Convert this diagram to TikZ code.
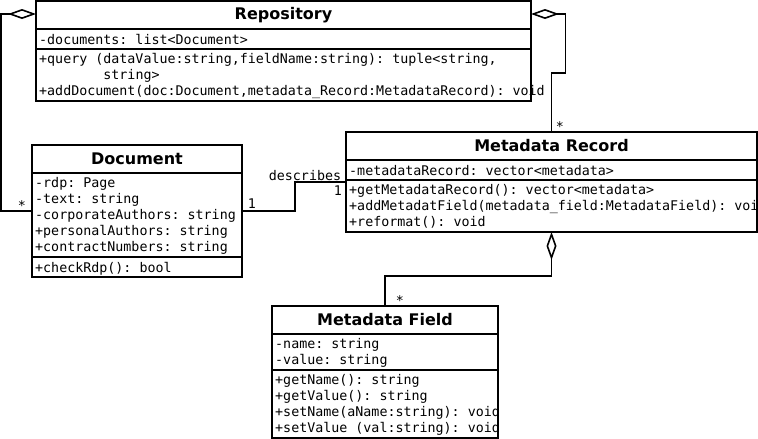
\documentclass[tikz,border=0pt]{standalone}
\usepackage{fontspec}
\setsansfont{DejaVu Sans}
\setmonofont{DejaVu Sans Mono}
\usetikzlibrary{arrows.meta}

\tikzset{
  part/.style={draw, line width=1.6pt, inner sep=0pt, outer sep=0pt, anchor=north west},
  classname/.style={part, minimum height=28pt, font=\sffamily\bfseries\fontsize{16}{19}\selectfont},
  members/.style={anchor=north west, align=left, inner xsep=3.2pt, inner ysep=4.5pt, outer sep=0pt,
    font=\ttfamily\fontsize{13.33}{16}\selectfont, execute at begin node=\strut},
  mult/.style={anchor=base, inner sep=0pt, font=\ttfamily\fontsize{13.33}{16}\selectfont},
  link/.style={line width=1.6pt},
  aggr/.style={link, -{Diamond[open, length=28pt, width=10pt]}},
}

\begin{document}
\begin{tikzpicture}[x=1pt, y=-1pt]
    \useasboundingbox (0,0) rectangle (758,439);

    % Repository
    \node[classname, minimum width=495pt] (repo) at (36,1) {Repository};
    \node[part, minimum width=495pt, minimum height=20pt] (repo-attr) at (repo.south west) {};
    \node[part, minimum width=495pt, minimum height=52pt] (repo-ops) at (repo-attr.south west) {};
    \node[members] (repo-attr-txt) at (repo-attr.north west) {-documents: list<Document>};
    \node[members] (repo-ops-txt) at (repo-ops.north west) {+query (dataValue:string,fieldName:string): tuple<string,\\
      \hphantom{+query (}string>\\
      +addDocument(doc:Document,metadata\_Record:MetadataRecord): void};

    % Document
    \node[classname, minimum width=210pt] (doc) at (32,145) {Document};
    \node[part, minimum width=210pt, minimum height=84pt] (doc-attr) at (doc.south west) {};
    \node[part, minimum width=210pt, minimum height=20pt] (doc-ops) at (doc-attr.south west) {};
    \node[members] (doc-attr-txt) at (doc-attr.north west) {-rdp: Page\\
      -text: string\\
      -corporateAuthors: string\\
      +personalAuthors: string\\
      +contractNumbers: string};
    \node[members] (doc-ops-txt) at (doc-ops.north west) {+checkRdp(): bool};

    % Metadata Record
    \node[classname, minimum width=411pt] (mrec) at (346,132) {Metadata Record};
    \node[part, minimum width=411pt, minimum height=20pt] (mrec-attr) at (mrec.south west) {};
    \node[part, minimum width=411pt, minimum height=52pt] (mrec-ops) at (mrec-attr.south west) {};
    \node[members] (mrec-attr-txt) at (mrec-attr.north west) {-metadataRecord: vector<metadata>};
    \node[members] (mrec-ops-txt) at (mrec-ops.north west) {+getMetadataRecord(): vector<metadata>\\
      +addMetadatField(metadata\_field:MetadataField): void\\
      +reformat(): void};

    % Metadata Field
    \node[classname, minimum width=226pt] (mfield) at (272,306) {Metadata Field};
    \node[part, minimum width=226pt, minimum height=36pt] (mfield-attr) at (mfield.south west) {};
    \node[part, minimum width=226pt, minimum height=68pt] (mfield-ops) at (mfield-attr.south west) {};
    \node[members] (mfield-attr-txt) at (mfield-attr.north west) {-name: string\\
      -value: string};
    \node[members] (mfield-ops-txt) at (mfield-ops.north west) {+getName(): string\\
      +getValue(): string\\
      +setName(aName:string): void\\
      +setValue (val:string): void};

    % connectors
    \draw[aggr] ([yshift=4pt]doc-attr.west) -- ++(-31,0) |- ([yshift=1pt]repo.west);
    \draw[aggr] (mrec.north) -- ++(0,-59) -- ++(14,0) |- ([yshift=1pt]repo.east);
    \draw[link] ([yshift=4pt]doc-attr.east) -- ++(53,0) |- ([yshift=-2pt]mrec-ops.north west);
    \draw[aggr] (mfield.north) -- ++(0,-30) -| (mrec-ops.south);

    % multiplicities
    \node[mult] (doc-repo-mult) at (22,210) {*};
    \node[mult] (mrec-repo-mult) at (560,131) {*};
    \node[mult] (doc-mult) at (252,208) {1};
    \node[mult] (describes-lbl) at (305,180) {describes};
    \node[mult] (mrec-mult) at (338,195) {1};
    \node[mult] (mfield-mult) at (400,305) {*};
\end{tikzpicture}
\end{document}
